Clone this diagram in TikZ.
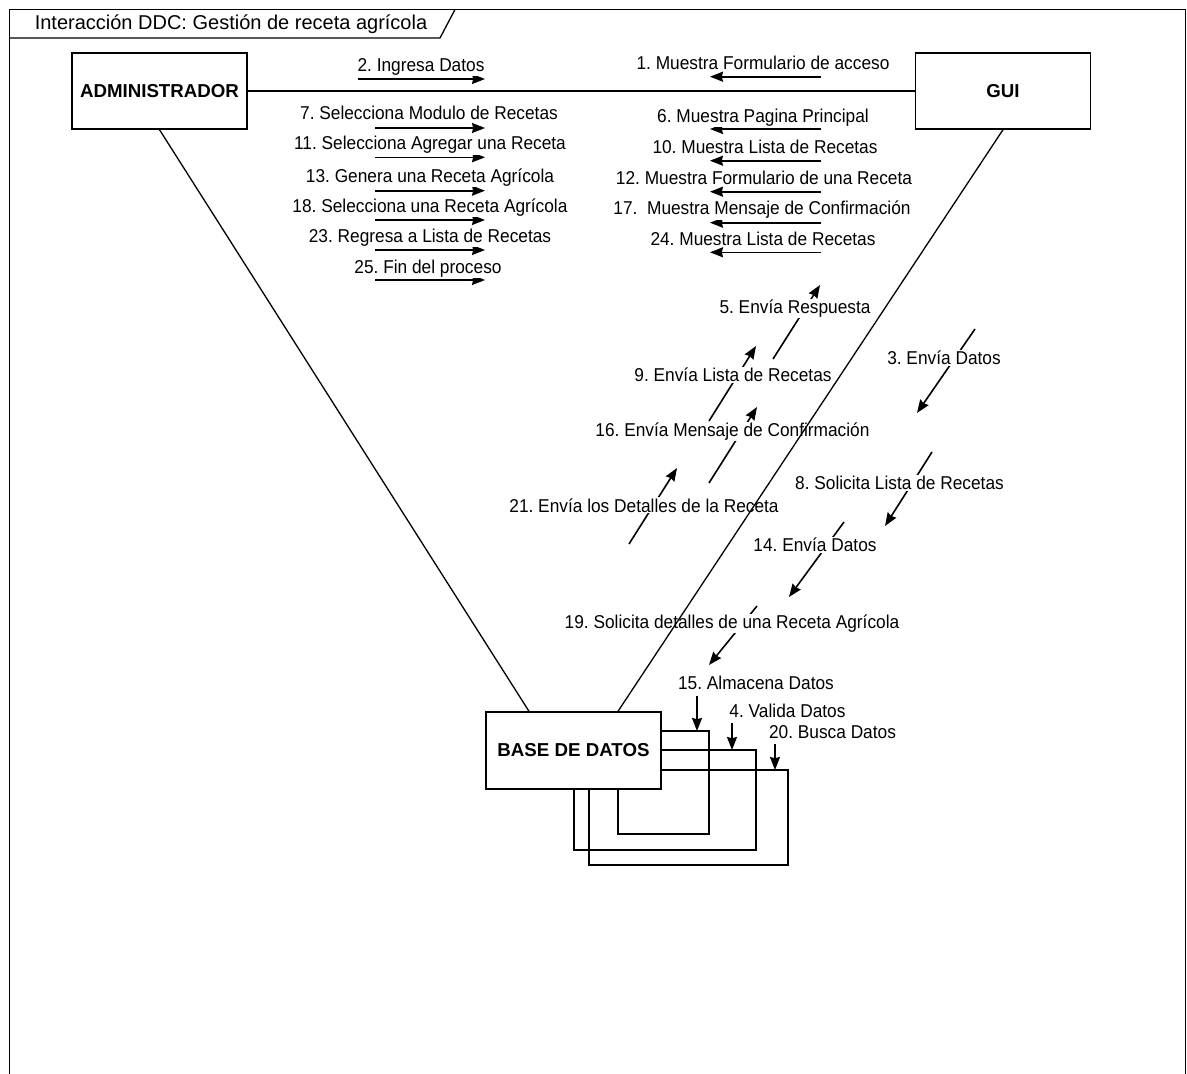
\documentclass[tikz,border=0pt]{standalone}
\usepackage{fontspec}
\setmainfont{Liberation Sans}
\newfontfamily\msgfont{Liberation Sans}[FakeStretch=0.93]
\usetikzlibrary{arrows.meta}
\begin{document}
\frenchspacing
\begin{tikzpicture}[x=1pt,y=-1pt,
  link/.style={line width=1.3pt},
  msg/.style={line width=1.6pt,-{Stealth[length=13pt,width=10pt,inset=1.2pt]}},
  obj/.style={draw,line width=1.4pt,minimum width=175pt,minimum height=76pt,
    inner sep=0pt,font=\fontsize{18.7}{22}\selectfont\bfseries},
  lbl/.style={fill=white,inner xsep=1pt,inner ysep=1pt,anchor=base,
    font=\msgfont\fontsize{18.6}{21}\selectfont},
]
\useasboundingbox (0,0) rectangle (1187,1074);

% frame and its title tab
\draw[line width=1.7pt] (9.5,1080) -- (9.5,9.5) -- (1185.5,9.5) -- (1185.5,1080);
\draw[link] (9.5,38) -- (440,38) -- (455,9.5);
\node[anchor=base,inner sep=0pt,font=\fontsize{20}{24}\selectfont] (title) at (231,29.3)
  {Interacción DDC: Gestión de receta agrícola};

% objects
\node[obj] (admin) at (159.5,91) {ADMINISTRADOR};
\node[obj] (gui) at (1003,91) {GUI};
\node[obj,minimum height=77pt] (db) at (573.5,750.5) {BASE DE DATOS};

% ---- messages ADMINISTRADOR -> GUI
\coordinate (a2s) at (358,79);   \coordinate (a2e) at (485,79);
\coordinate (a7s) at (375,128);  \coordinate (a7e) at (485,128);
\coordinate (a11s) at (375,157.3); \coordinate (a11e) at (485,157.3);
\coordinate (a13s) at (375,190.7); \coordinate (a13e) at (485,190.7);
\coordinate (a18s) at (375,220); \coordinate (a18e) at (485,220);
\coordinate (a23s) at (375,250); \coordinate (a23e) at (485,250);
\coordinate (a25s) at (375,280); \coordinate (a25e) at (485,280);
\foreach \m in {2,7,11,13,18,23,25} \draw[msg] (a\m s) -- (a\m e);

% ---- messages GUI -> ADMINISTRADOR
\coordinate (g1s) at (821,76.7);  \coordinate (g1e) at (710,76.7);
\coordinate (g6s) at (821,129);   \coordinate (g6e) at (710,129);
\coordinate (g10s) at (821,160.7); \coordinate (g10e) at (710,160.7);
\coordinate (g12s) at (821,191.7); \coordinate (g12e) at (710,191.7);
\coordinate (g17s) at (821,222.7); \coordinate (g17e) at (710,222.7);
\coordinate (g24s) at (821,252.3); \coordinate (g24e) at (710,252.3);
\foreach \m in {1,6,10,12,17,24} \draw[msg] (g\m s) -- (g\m e);

% ---- messages BASE DE DATOS -> GUI
\coordinate (d5s) at (773,359);  \coordinate (d5e) at (820,285);
\coordinate (d9s) at (709,421);  \coordinate (d9e) at (756,346);
\coordinate (d16s) at (709,483); \coordinate (d16e) at (757,407);
\coordinate (d21s) at (629,544); \coordinate (d21e) at (677,468);
\foreach \m in {5,9,16,21} \draw[msg] (d\m s) -- (d\m e);

% ---- messages GUI -> BASE DE DATOS
\coordinate (u3s) at (975,329);  \coordinate (u3e) at (917,413);
\coordinate (u8s) at (932,452);  \coordinate (u8e) at (885,526);
\coordinate (u14s) at (844,522); \coordinate (u14e) at (789,597);
\coordinate (u19s) at (757,606); \coordinate (u19e) at (709,665);
\foreach \m in {3,8,14,19} \draw[msg] (u\m s) -- (u\m e);

% ---- self messages on BASE DE DATOS
\coordinate (la1) at (709,731); \coordinate (la2) at (618,834);
\coordinate (lb1) at (756,750); \coordinate (lb2) at (574,850);
\coordinate (lc1) at (788,770); \coordinate (lc2) at (589,865);
\draw[link] (db.east |- la1) -- (la1) |- (la2) -- (la2 |- db.south);
\draw[link] (db.east |- lb1) -- (lb1) |- (lb2) -- (lb2 |- db.south);
\draw[link] (db.east |- lc1) -- (lc1) |- (lc2) -- (lc2 |- db.south);
\coordinate (s15s) at (697,696); \coordinate (s15e) at (697,731);
\coordinate (s4s) at (732,723);  \coordinate (s4e) at (732,750);
\coordinate (s20s) at (775,744); \coordinate (s20e) at (775,770);
\foreach \m in {15,4,20} \draw[msg] (s\m s) -- (s\m e);

% ---- labels
\node[lbl] (t2) at (421,71.6) {2. Ingresa Datos};
\node[lbl] (t7) at (429,119.6) {7. Selecciona Modulo de Recetas};
\node[lbl] (t11) at (430,149.9) {11. Selecciona Agregar una Receta};
\node[lbl] (t13) at (430,182.6) {13. Genera una Receta Agrícola};
\node[lbl] (t18) at (430,212.3) {18. Selecciona una Receta Agrícola};
\node[lbl] (t23) at (430,242.3) {23. Regresa a Lista de Recetas};
\node[lbl] (t25) at (428,273.3) {25. Fin del proceso};

\node[lbl] (t1) at (763,69.6) {1. Muestra Formulario de acceso};
\node[lbl] (t6) at (763,122.6) {6. Muestra Pagina Principal};
\node[lbl] (t10) at (765,153.9) {10. Muestra Lista de Recetas};
\node[lbl] (t12) at (764,184.9) {12. Muestra Formulario de una Receta};
\node[lbl] (t17) at (762,214.9) {17.\ \ Muestra Mensaje de Confirmación};
\node[lbl] (t24) at (763,245.6) {24. Muestra Lista de Recetas};

\node[lbl] (t5) at (795,313.6) {5. Envía Respuesta};
\node[lbl] (t9) at (733,381.6) {9. Envía Lista de Recetas};
\node[lbl] (t16) at (732.5,436.6) {16. Envía Mensaje de Confirmación};
\node[lbl] (t21) at (644,512.1) {21. Envía los Detalles de la Receta};

\node[lbl] (t3) at (944,364.6) {3. Envía Datos};
\node[lbl] (t8) at (899.5,489.6) {8. Solicita Lista de Recetas};
\node[lbl] (t14) at (815,551.6) {14. Envía Datos};
\node[lbl] (t19) at (732,628.6) {19. Solicita detalles de una Receta Agrícola};

\node[lbl] (t15) at (756,689.6) {15. Almacena Datos};
\node[lbl] (t4) at (787.5,717.3) {4. Valida Datos};
\node[lbl] (t20) at (832.5,738.3) {20. Busca Datos};

% ---- links between the objects
\draw[link] (admin) -- (gui);
\draw[link] (admin.south) -- ([xshift=-44.5pt]db.north);
\draw[link] (gui.south) -- ([xshift=44.5pt]db.north);
\end{tikzpicture}
\end{document}
